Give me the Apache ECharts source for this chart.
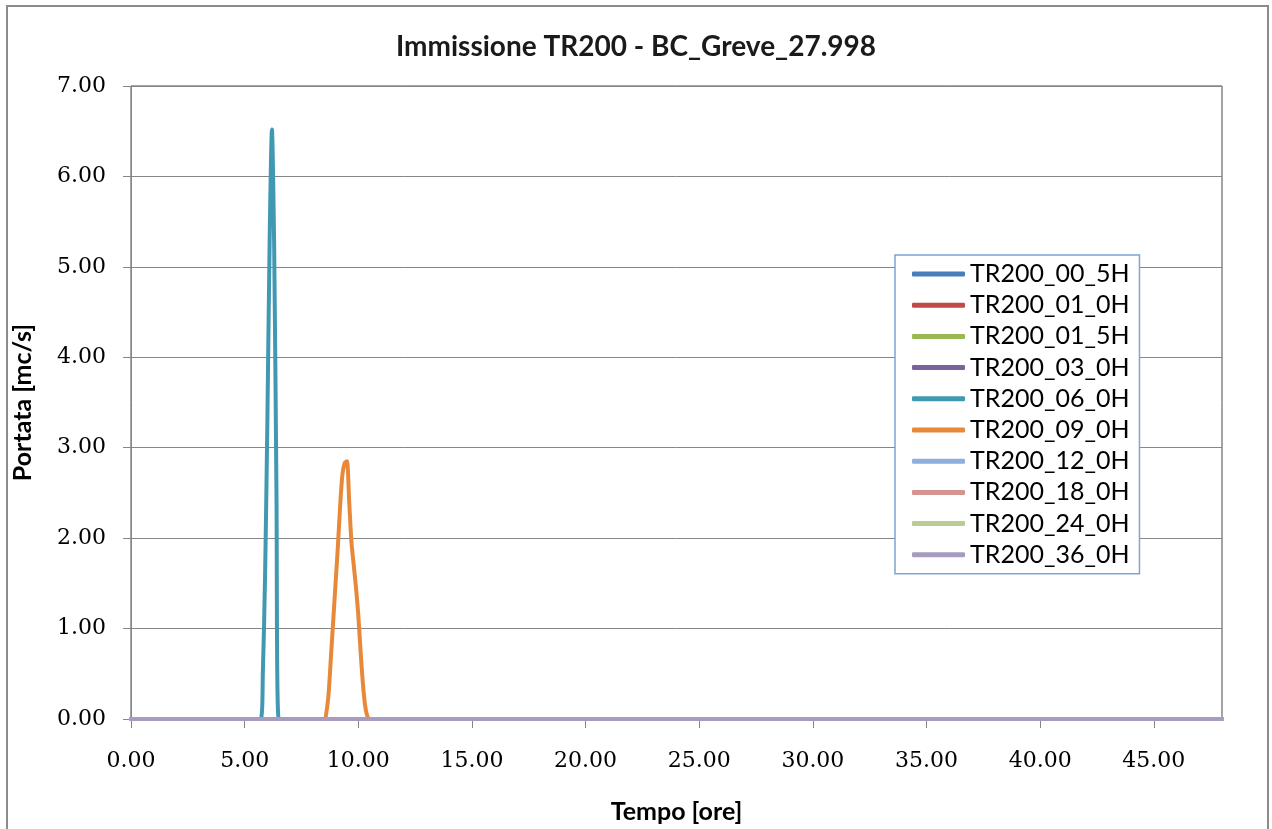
<!DOCTYPE html>
<html>
<head>
<meta charset="utf-8">
<script src="https://cdn.jsdelivr.net/npm/echarts@6/dist/echarts.min.js"></script>
<style>
  html, body { margin: 0; padding: 0; background: #ffffff; }
  #chart { width: 1272px; height: 829px; }
</style>
</head>
<body>
<div id="chart"></div>
<script>
// Hydrograph series: [time in hours, discharge in m3/s]
const seriesNames = [
  'TR200_00_5H', 'TR200_01_0H', 'TR200_01_5H', 'TR200_03_0H', 'TR200_06_0H',
  'TR200_09_0H', 'TR200_12_0H', 'TR200_18_0H', 'TR200_24_0H', 'TR200_36_0H'
];
const seriesColors = [
  '#4A7EBB', '#BE4B48', '#98B954', '#7D60A0', '#4099B2',
  '#E8893A', '#8EB0DC', '#D69491', '#B7CD94', '#A99BC0'
];

const flat = [[0, 0], [48, 0]];

const tr200_06_0H = [
  [0, 0], [5.7, 0], [5.8, 0.5], [5.9, 1.6], [6.0, 3.3], [6.1, 5.3],
  [6.2, 6.52], [6.3, 5.2], [6.4, 2.5], [6.5, 0], [48, 0]
];

const tr200_09_0H = [
  [0, 0], [8.5, 0], [8.6, 0.08], [8.7, 0.3], [8.8, 0.7], [8.9, 1.1],
  [9.0, 1.5], [9.1, 1.9], [9.2, 2.35], [9.3, 2.7], [9.4, 2.83], [9.5, 2.85],
  [9.6, 2.4], [9.7, 1.95], [9.8, 1.7], [9.9, 1.45], [10.0, 1.15], [10.1, 0.75],
  [10.2, 0.4], [10.3, 0.15], [10.4, 0.03], [10.5, 0], [48, 0]
];

const seriesData = [
  flat, flat, flat, flat, tr200_06_0H,
  tr200_09_0H, flat, flat, flat, flat
];

// Axis ranges and tick steps
const xRange = [0, 48], xStep = 5;
const yRange = [0, 7], yStep = 1;

const chart = echarts.init(document.getElementById('chart'));

const option = {
  backgroundColor: '#ffffff',
  animation: false,
  title: {
    text: 'Immissione TR200 - BC_Greve_27.998',
    left: 'center',
    top: 28,
    textStyle: { fontFamily: 'Lato', fontSize: 28, fontWeight: 'bold', color: '#1a1a1a' }
  },
  graphic: [{
    type: 'rect',
    shape: { x: 7, y: 6, width: 1261, height: 830 },
    style: { fill: 'none', stroke: '#8c8c8c', lineWidth: 2 },
    silent: true,
    z: -1
  }],
  grid: {
    left: 131, right: 50, top: 86, bottom: 108,
    show: true, borderColor: '#4a4a4a', borderWidth: 1, backgroundColor: '#ffffff'
  },
  legend: {
    orient: 'vertical',
    left: 895, top: 255,
    padding: [6, 10, 6, 17],
    backgroundColor: '#ffffff',
    borderColor: '#7fa3d3', borderWidth: 1.5,
    icon: 'roundRect',
    itemWidth: 53, itemHeight: 5,
    itemGap: 5.2,
    textStyle: { fontFamily: 'Lato', fontSize: 25, lineHeight: 26, color: '#000000' },
    data: seriesNames
  },
  xAxis: {
    type: 'value',
    min: xRange[0], max: xRange[1], interval: xStep,
    name: 'Tempo [ore]',
    nameLocation: 'middle',
    nameGap: 80,
    nameTextStyle: { fontFamily: 'Lato', fontSize: 25, fontWeight: 'bold', color: '#000000' },
    axisLine: { show: true, lineStyle: { color: '#868686', width: 1 } },
    axisTick: { show: true, inside: false, length: 9, lineStyle: { color: '#868686' } },
    splitLine: { show: false },
    axisLabel: {
      showMaxLabel: false,
      margin: 31,
      fontFamily: 'DejaVu Serif', fontSize: 22, color: '#000000',
      formatter: v => v.toFixed(2)
    }
  },
  yAxis: {
    type: 'value',
    min: yRange[0], max: yRange[1], interval: yStep,
    name: 'Portata [mc/s]',
    nameLocation: 'middle',
    nameGap: 96,
    nameTextStyle: { fontFamily: 'Lato', fontSize: 25, fontWeight: 'bold', color: '#000000' },
    axisLine: { show: true, lineStyle: { color: '#868686', width: 1 } },
    axisTick: { show: true, inside: false, length: 8, lineStyle: { color: '#868686' } },
    splitLine: { show: true, lineStyle: { color: '#868686', width: 1 } },
    axisLabel: {
      margin: 25,
      fontFamily: 'DejaVu Serif', fontSize: 22, color: '#000000',
      formatter: v => v.toFixed(2)
    }
  },
  series: seriesNames.map((name, i) => ({
    name: name,
    type: 'line',
    data: seriesData[i],
    color: seriesColors[i],
    showSymbol: false,
    symbol: 'none',
    smooth: 0.25,
    lineStyle: { width: 4, color: seriesColors[i], cap: 'round', join: 'round' },
    z: 2 + i
  }))
};

chart.setOption(option);
</script>
</body>
</html>
